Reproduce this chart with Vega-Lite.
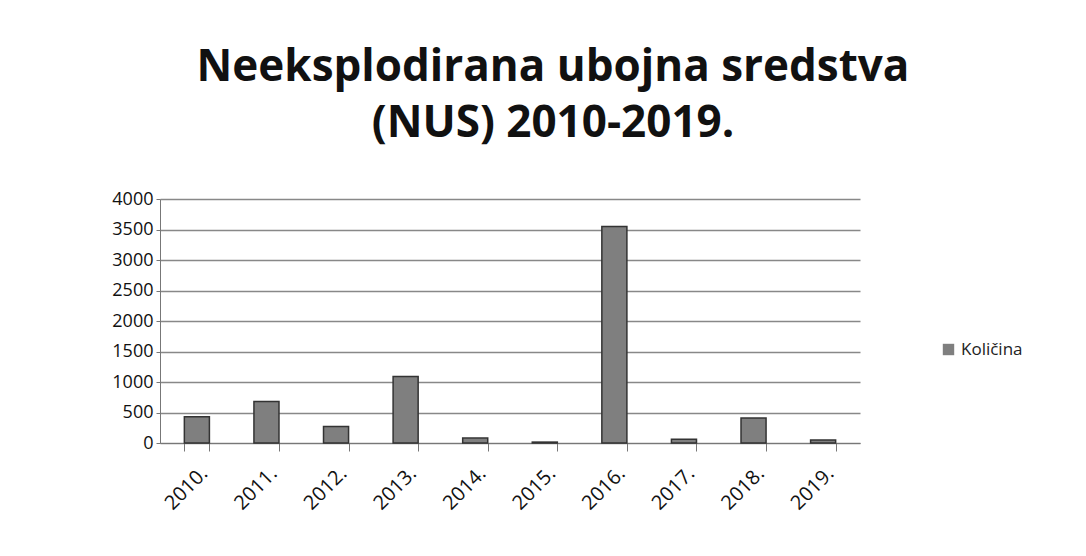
{
  "$schema": "https://vega.github.io/schema/vega-lite/v6.json",
  "autosize": "none",
  "width": 700,
  "height": 244,
  "padding": {"left": 160, "top": 199, "right": 226, "bottom": 113},
  "background": "white",
  "title": {
    "text": ["Neeksplodirana ubojna sredstva", "(NUS) 2010-2019."],
    "font": "Open Sans",
    "fontSize": 44,
    "fontWeight": "bold",
    "color": "#111111",
    "lineHeight": 56,
    "anchor": "middle",
    "dx": 43,
    "offset": 44
  },
  "data": {
    "values": [
      {"godina": "2010.", "serija": "Količina", "vrijednost": 430},
      {"godina": "2011.", "serija": "Količina", "vrijednost": 680},
      {"godina": "2012.", "serija": "Količina", "vrijednost": 270},
      {"godina": "2013.", "serija": "Količina", "vrijednost": 1090},
      {"godina": "2014.", "serija": "Količina", "vrijednost": 80},
      {"godina": "2015.", "serija": "Količina", "vrijednost": 15},
      {"godina": "2016.", "serija": "Količina", "vrijednost": 3550},
      {"godina": "2017.", "serija": "Količina", "vrijednost": 60},
      {"godina": "2018.", "serija": "Količina", "vrijednost": 410},
      {"godina": "2019.", "serija": "Količina", "vrijednost": 50}
    ]
  },
  "mark": {"type": "bar", "stroke": "#333333", "strokeWidth": 1.5},
  "encoding": {
    "x": {
      "field": "godina",
      "type": "nominal",
      "sort": null,
      "title": null,
      "scale": {"paddingInner": 0.64, "paddingOuter": 0.35},
      "axis": {
        "labelAngle": -45,
        "labelFont": "Open Sans",
        "labelFontSize": 20,
        "labelColor": "#111111",
        "labelPadding": 12,
        "domainColor": "#777777",
        "tickColor": "#777777",
        "tickSize": 8,
        "tickBand": "extent",
        "grid": false
      }
    },
    "y": {
      "field": "vrijednost",
      "type": "quantitative",
      "title": null,
      "scale": {"domain": [0, 4000]},
      "axis": {
        "values": [0, 500, 1000, 1500, 2000, 2500, 3000, 3500, 4000],
        "format": "d",
        "labelFont": "Open Sans",
        "labelFontSize": 18,
        "labelColor": "#111111",
        "labelPadding": 3,
        "domainColor": "#777777",
        "tickColor": "#777777",
        "tickSize": 4,
        "gridColor": "#888888",
        "gridWidth": 1.5
      }
    },
    "color": {
      "field": "serija",
      "type": "nominal",
      "title": null,
      "scale": {"range": ["#7f7f7f"]},
      "legend": {
        "orient": "none",
        "legendX": 780,
        "legendY": 142,
        "symbolType": "square",
        "symbolSize": 130,
        "symbolStrokeWidth": 0,
        "labelFont": "Open Sans",
        "labelFontSize": 17,
        "labelColor": "#222222"
      }
    }
  },
  "config": {"view": {"stroke": null}}
}
